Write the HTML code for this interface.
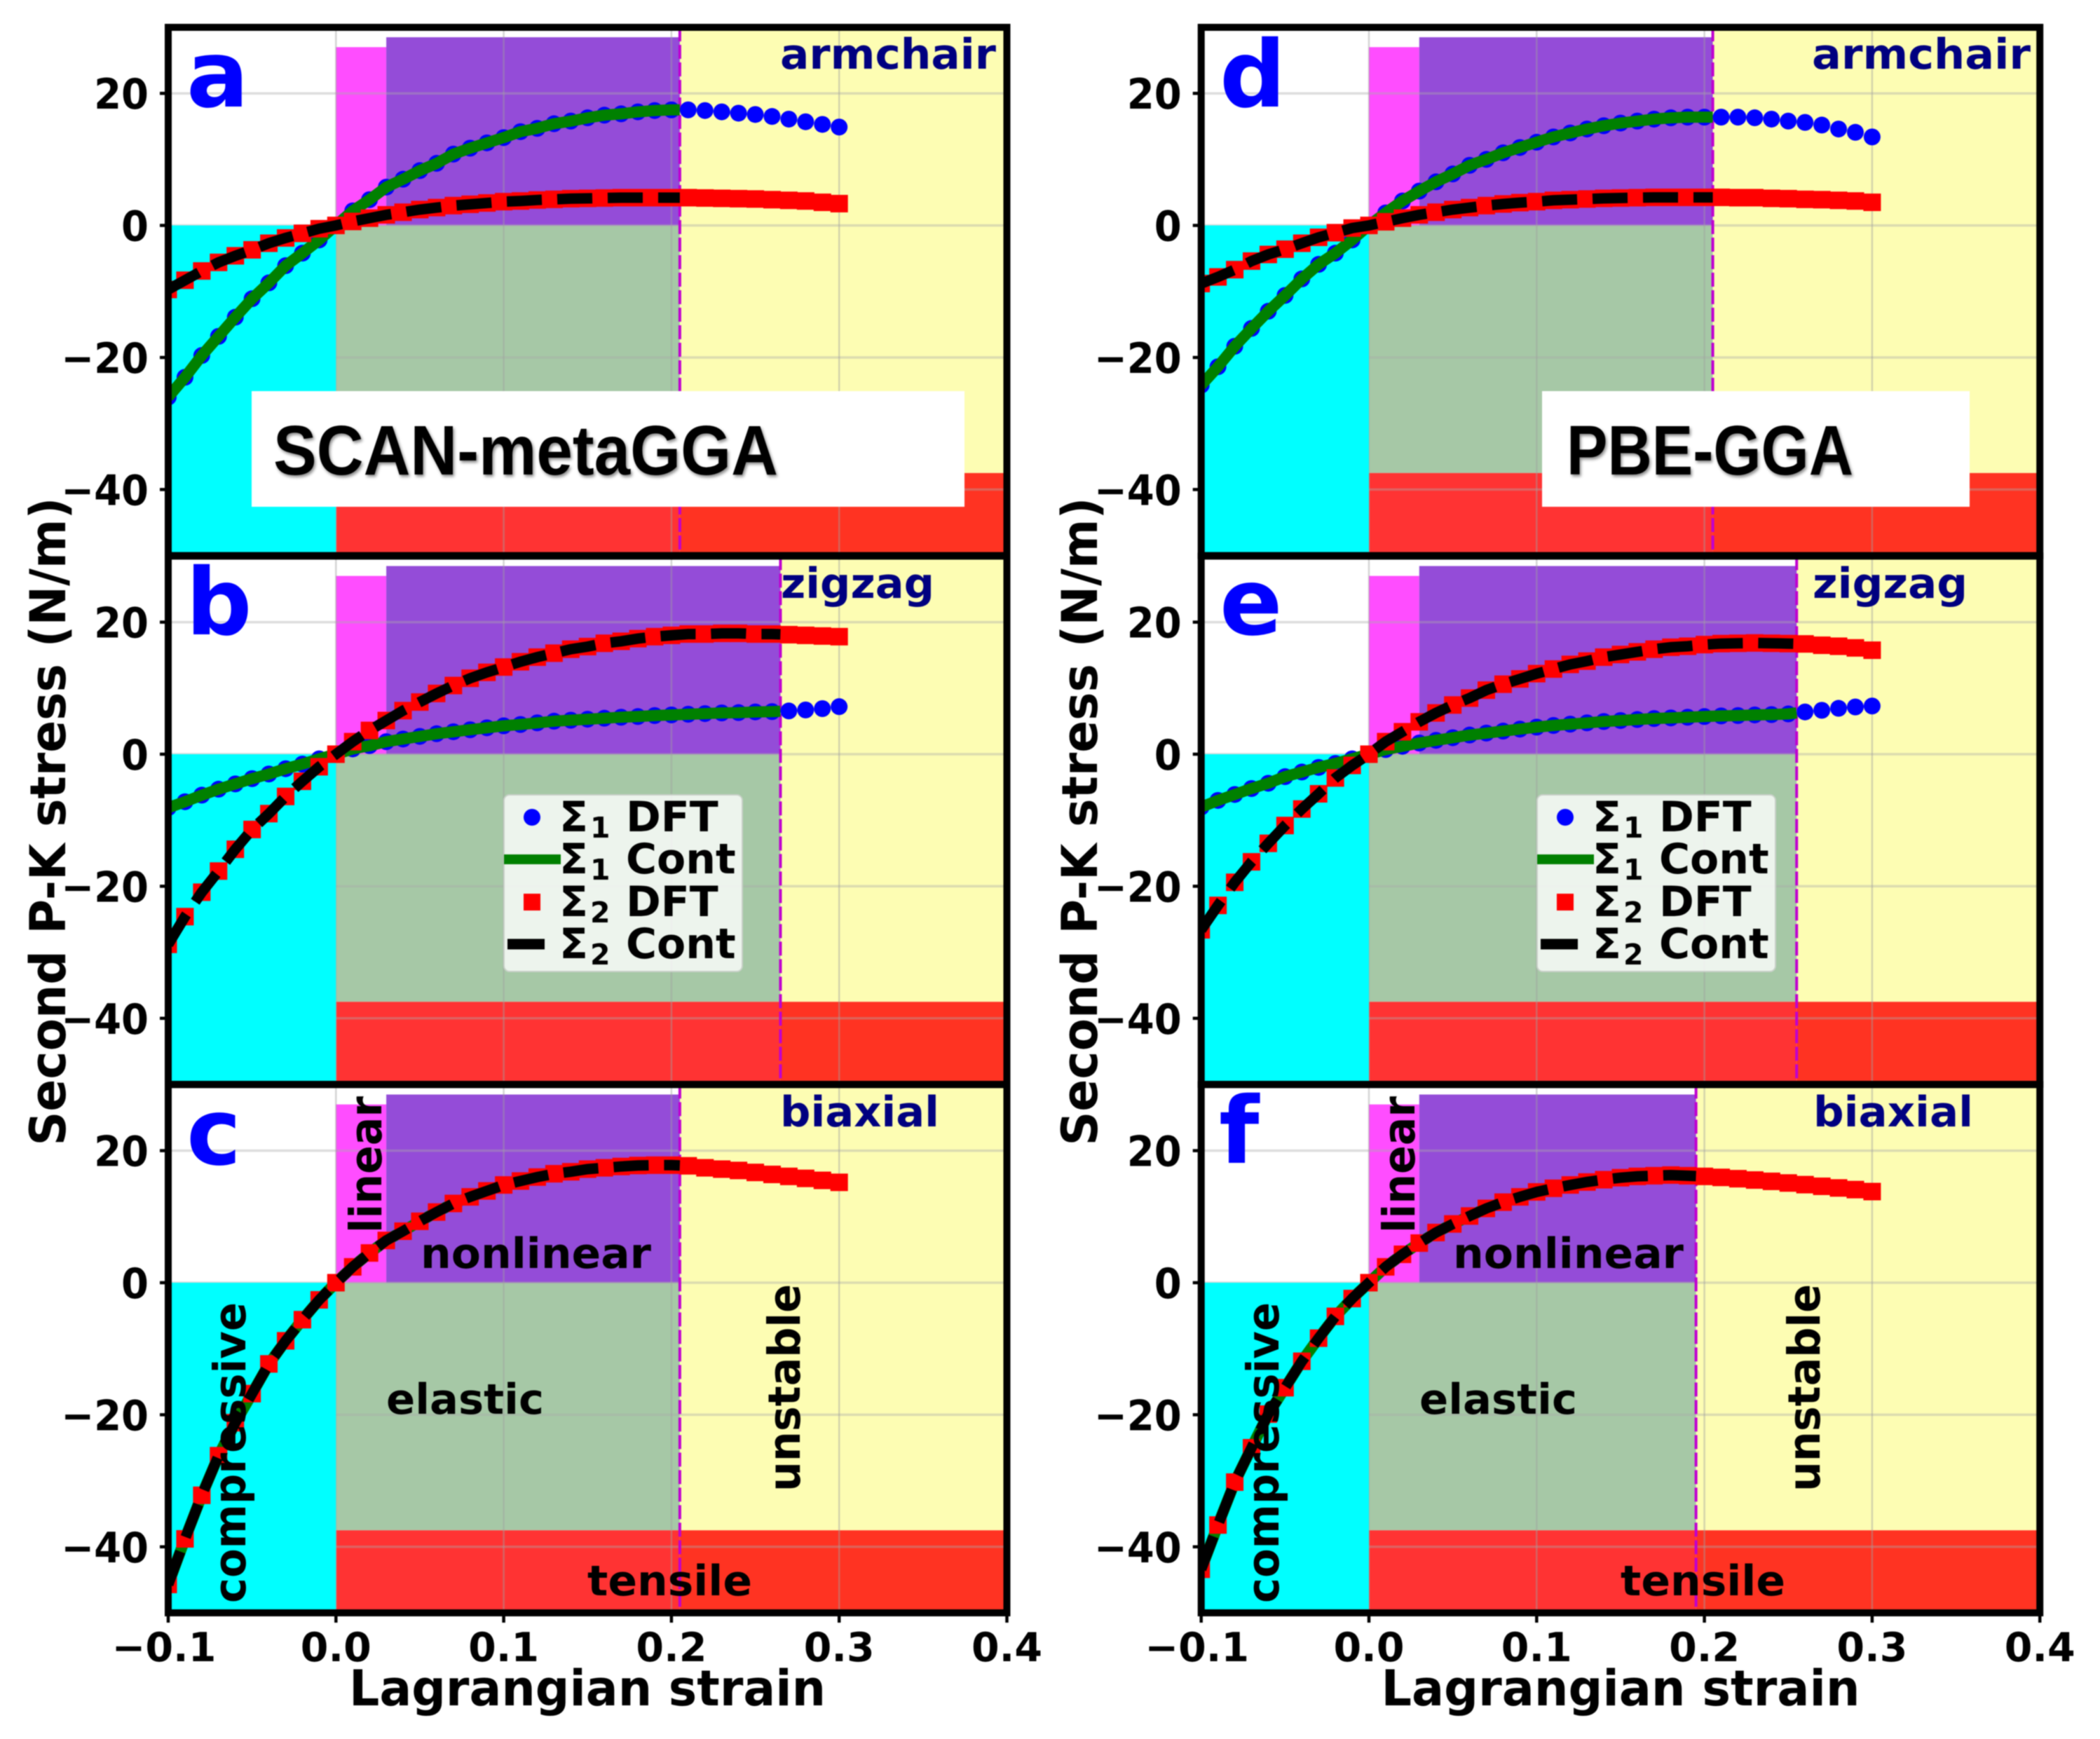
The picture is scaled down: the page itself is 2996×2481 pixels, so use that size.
<!DOCTYPE html>
<html lang="en">
<head>
<meta charset="utf-8">
<title>Second P-K stress versus Lagrangian strain</title>
<style>
html,body{margin:0;padding:0;background:#fff;}
svg{display:block;filter:blur(0.8px);}
text{font-family:"DejaVu Sans","Liberation Sans",sans-serif;font-weight:bold;}
.dir{font-size:60px;fill:#000080;}
.note{font-size:60px;fill:#000;}
.note-v{font-size:63px;fill:#000;}
.letter{font-size:132px;fill:#0000ff;}
.axis-title{font-size:70px;fill:#000;}
.method{font-family:"Liberation Sans",sans-serif;font-size:100px;fill:#000;filter:drop-shadow(2px 3px 2px rgba(0,0,0,.45));}
.leg{font-size:60px;fill:#000;}
.leg-sub{font-size:41px;fill:#000;}
</style>
</head>
<body>
<svg id="figure" xmlns="http://www.w3.org/2000/svg" width="2996" height="2481" viewBox="0 0 2996 2481">
<rect x="0" y="0" width="2996" height="2481" fill="#fff"/>
<g id="plot-layer"></g>

<g>
<text class="dir" x="1113" y="98" textLength="308" lengthAdjust="spacingAndGlyphs">armchair</text>
<text class="dir" x="1114" y="853" textLength="219" lengthAdjust="spacingAndGlyphs">zigzag</text>
<text class="dir" x="1113" y="1607" textLength="227" lengthAdjust="spacingAndGlyphs">biaxial</text>
<text class="letter" x="266" y="152">a</text>
<text class="letter" x="265" y="905">b</text>
<text class="letter" x="266" y="1661">c</text>
<text class="note" x="600" y="1809" textLength="329" lengthAdjust="spacingAndGlyphs">nonlinear</text>
<text class="note" x="551" y="2017" textLength="225" lengthAdjust="spacingAndGlyphs">elastic</text>
<text class="note" x="838" y="2276" textLength="235" lengthAdjust="spacingAndGlyphs">tensile</text>
<text class="note-v" transform="translate(544,1759) rotate(-90)" textLength="195" lengthAdjust="spacingAndGlyphs">linear</text>
<text class="note-v" transform="translate(350,2287) rotate(-90)" textLength="429" lengthAdjust="spacingAndGlyphs">compressive</text>
<text class="note-v" transform="translate(1141,2128) rotate(-90)" textLength="296" lengthAdjust="spacingAndGlyphs">unstable</text>
</g>

<g>
<text class="dir" x="2585" y="98" textLength="312" lengthAdjust="spacingAndGlyphs">armchair</text>
<text class="dir" x="2586" y="853" textLength="221" lengthAdjust="spacingAndGlyphs">zigzag</text>
<text class="dir" x="2587" y="1607" textLength="228" lengthAdjust="spacingAndGlyphs">biaxial</text>
<text class="letter" x="1740" y="152">d</text>
<text class="letter" x="1740" y="905">e</text>
<text class="letter" x="1739" y="1659">f</text>
<text class="note" x="2073" y="1809" textLength="329" lengthAdjust="spacingAndGlyphs">nonlinear</text>
<text class="note" x="2025" y="2017" textLength="225" lengthAdjust="spacingAndGlyphs">elastic</text>
<text class="note" x="2312" y="2276" textLength="235" lengthAdjust="spacingAndGlyphs">tensile</text>
<text class="note-v" transform="translate(2018,1759) rotate(-90)" textLength="195" lengthAdjust="spacingAndGlyphs">linear</text>
<text class="note-v" transform="translate(1824,2287) rotate(-90)" textLength="429" lengthAdjust="spacingAndGlyphs">compressive</text>
<text class="note-v" transform="translate(2596,2128) rotate(-90)" textLength="296" lengthAdjust="spacingAndGlyphs">unstable</text>
</g>

<g>
<rect x="719" y="1134" width="340" height="252" rx="8" ry="8" fill="rgba(255,255,255,.8)" stroke="#c8d0c8" stroke-width="2"/>
<circle cx="759" cy="1166" r="12" fill="#0000ff"/>
<line x1="719" x2="800" y1="1226" y2="1226" stroke="#008000" stroke-width="14"/>
<rect x="747" y="1275" width="24" height="24" fill="#ff0000"/>
<line x1="724" x2="777" y1="1347" y2="1347" stroke="#000" stroke-width="15"/>
<text class="leg" x="798" y="1186">Σ<tspan class="leg-sub" x="842" dy="9">1</tspan><tspan x="893" dy="-9">DFT</tspan></text>
<text class="leg" x="798" y="1246">Σ<tspan class="leg-sub" x="842" dy="9">1</tspan><tspan x="893" dy="-9">Cont</tspan></text>
<text class="leg" x="798" y="1307">Σ<tspan class="leg-sub" x="842" dy="9">2</tspan><tspan x="893" dy="-9">DFT</tspan></text>
<text class="leg" x="798" y="1367">Σ<tspan class="leg-sub" x="842" dy="9">2</tspan><tspan x="893" dy="-9">Cont</tspan></text>
</g>

<g transform="translate(1474,0)">
<rect x="719" y="1134" width="340" height="252" rx="8" ry="8" fill="rgba(255,255,255,.8)" stroke="#c8d0c8" stroke-width="2"/>
<circle cx="759" cy="1166" r="12" fill="#0000ff"/>
<line x1="719" x2="800" y1="1226" y2="1226" stroke="#008000" stroke-width="14"/>
<rect x="747" y="1275" width="24" height="24" fill="#ff0000"/>
<line x1="724" x2="777" y1="1347" y2="1347" stroke="#000" stroke-width="15"/>
<text class="leg" x="798" y="1186">Σ<tspan class="leg-sub" x="842" dy="9">1</tspan><tspan x="893" dy="-9">DFT</tspan></text>
<text class="leg" x="798" y="1246">Σ<tspan class="leg-sub" x="842" dy="9">1</tspan><tspan x="893" dy="-9">Cont</tspan></text>
<text class="leg" x="798" y="1307">Σ<tspan class="leg-sub" x="842" dy="9">2</tspan><tspan x="893" dy="-9">DFT</tspan></text>
<text class="leg" x="798" y="1367">Σ<tspan class="leg-sub" x="842" dy="9">2</tspan><tspan x="893" dy="-9">Cont</tspan></text>
</g>

<g id="frame-layer"></g>

<g>
<rect x="359" y="558" width="1017" height="165" fill="#fff"/>
<text class="method" x="390" y="677" textLength="720" lengthAdjust="spacingAndGlyphs">SCAN-metaGGA</text>
</g>
<g>
<rect x="2200" y="558" width="610" height="165" fill="#fff"/>
<text class="method" x="2235" y="677" textLength="409" lengthAdjust="spacingAndGlyphs">PBE-GGA</text>
</g>

<text class="axis-title" text-anchor="middle" transform="translate(93,1172) rotate(-90)" textLength="925" lengthAdjust="spacingAndGlyphs">Second P-K stress (N/m)</text>
<text class="axis-title" text-anchor="middle" transform="translate(1565,1172) rotate(-90)" textLength="925" lengthAdjust="spacingAndGlyphs">Second P-K stress (N/m)</text>
<text class="axis-title" text-anchor="middle" x="838" y="2433" textLength="680" lengthAdjust="spacingAndGlyphs">Lagrangian strain</text>
<text class="axis-title" text-anchor="middle" x="2312" y="2433" textLength="683" lengthAdjust="spacingAndGlyphs">Lagrangian strain</text>
</svg>

<script>
const strain = [-0.10,-0.09,-0.08,-0.07,-0.06,-0.05,-0.04,-0.03,-0.02,-0.01,0,0.01,0.02,0.03,0.04,0.05,0.06,0.07,0.08,0.09,0.10,0.11,0.12,0.13,0.14,0.15,0.16,0.17,0.18,0.19,0.20,0.21,0.22,0.23,0.24,0.25,0.26,0.27,0.28,0.29,0.30];

const armchairScanS1 = [-26,-23,-19.7,-16.8,-13.9,-11.1,-8.7,-6.1,-4.2,-2.2,0,2.2,3.9,5.8,7,8.3,9.4,10.8,11.7,12.5,13.3,14.2,14.7,15.4,15.8,16.3,16.7,16.9,17.2,17.4,17.5,17.5,17.4,17.2,17,16.8,16.5,16.1,15.7,15.3,14.9];
const armchairScanS2 = [-9.7,-8.3,-6.9,-5.6,-4.6,-3.7,-2.7,-1.9,-1.2,-0.5,0,0.6,1.1,1.6,2,2.4,2.7,3,3.2,3.4,3.6,3.7,3.85,3.95,4.05,4.1,4.15,4.2,4.2,4.2,4.2,4.2,4.15,4.1,4.05,4,3.9,3.8,3.7,3.5,3.3];
const zigzagScanS1 = [-8.1,-7.2,-6.2,-5.3,-4.5,-3.7,-3,-2.2,-1.5,-0.7,0,0.8,1.3,1.9,2.3,2.7,3.1,3.4,3.7,4,4.3,4.5,4.75,5,5.15,5.3,5.45,5.6,5.7,5.85,5.95,6.05,6.15,6.25,6.3,6.4,6.45,6.55,6.7,6.9,7.2];
const zigzagScanS2 = [-28.8,-24.6,-20.9,-17.7,-14.4,-11.4,-9,-6.4,-4.1,-1.9,0,1.9,3.6,5.1,6.6,7.9,9.2,10.4,11.5,12.4,13.2,14,14.7,15.3,15.9,16.3,16.8,17.1,17.5,17.8,18,18.2,18.2,18.3,18.3,18.2,18.2,18.1,18,17.9,17.8];
const biaxialScan = [-45.7,-38.8,-32.2,-26.2,-21.2,-16.8,-12.3,-8.8,-5.6,-2.6,0,2.4,4.5,6.4,7.8,9.3,10.7,12,13,13.9,14.8,15.4,16,16.5,16.8,17.2,17.4,17.6,17.75,17.8,17.8,17.7,17.4,17.2,17,16.7,16.4,16.1,15.8,15.5,15.2];
const armchairPbeS1 = [-24.2,-21.4,-18.3,-15.6,-13,-10.6,-8.1,-5.9,-4.2,-2.2,0,1.9,3.7,5.2,6.6,7.8,9.1,10,11,11.8,12.6,13.4,14,14.6,15.1,15.5,15.8,16.1,16.3,16.4,16.4,16.4,16.4,16.3,16.1,15.8,15.6,15.2,14.6,14.1,13.4];
const armchairPbeS2 = [-8.8,-7.8,-6.7,-5.4,-4.4,-3.6,-2.7,-1.8,-1.1,-0.4,0,0.55,1.1,1.6,2,2.4,2.7,3,3.25,3.45,3.6,3.8,3.9,4,4.1,4.15,4.2,4.25,4.25,4.25,4.25,4.25,4.2,4.2,4.1,4.05,3.95,3.9,3.8,3.7,3.5];
const zigzagPbeS1 = [-8,-7,-6.1,-5.2,-4.4,-3.4,-2.7,-2,-1.4,-0.7,0,0.7,1.2,1.7,2.1,2.5,2.9,3.2,3.5,3.8,4.1,4.35,4.55,4.75,4.95,5.1,5.25,5.4,5.5,5.6,5.7,5.8,5.85,5.95,6,6.1,6.4,6.65,6.95,7.15,7.3];
const zigzagPbeS2 = [-26.6,-22.9,-19.4,-16.3,-13.5,-10.8,-8.3,-6,-3.6,-1.7,0,1.9,3.4,4.9,6.25,7.45,8.5,9.7,10.6,11.4,12.2,12.9,13.6,14.1,14.7,15.1,15.5,15.9,16.2,16.35,16.6,16.75,16.8,16.85,16.8,16.75,16.7,16.5,16.35,16.1,15.75];
const biaxialPbe = [-43.4,-36.7,-30.2,-25,-19.9,-15.9,-11.9,-8.4,-5.1,-2.4,0,2.4,4.3,6,7.6,8.9,10.1,11.25,12.2,13,13.75,14.3,14.8,15.25,15.6,15.9,16.1,16.2,16.3,16.2,16.1,15.95,15.75,15.55,15.35,15.1,14.85,14.6,14.35,14.1,13.8];

const criticalStrain = [0.205,0.265,0.205,0.205,0.255,0.195];
const panelIds = ['a','b','c','d','e','f'];
const sigma1Series = [armchairScanS1,zigzagScanS1,biaxialScan,armchairPbeS1,zigzagPbeS1,biaxialPbe];
const sigma2Series = [armchairScanS2,zigzagScanS2,biaxialScan,armchairPbeS2,zigzagPbeS2,biaxialPbe];

const yTickValues = [20,0,-20,-40];
const yTickLabels = ['20','0','\u221220','\u221240'];
const xTickValues = [-0.1,0,0.1,0.2,0.3,0.4];
const xTickLabels = ['\u22120.1','0.0','0.1','0.2','0.3','0.4'];
const gridStrainValues = [0,0.1,0.2,0.3];

const xDomain = [-0.1,0.4];
const yDomain = [-50,30];
const linearLimit = 0.03;
const purpleTop = 28.5;
const magentaTop = 27;
const tensileTop = -37.5;

const SVGNS = 'http://www.w3.org/2000/svg';
const plotLayer = document.getElementById('plot-layer');
const frameLayer = document.getElementById('frame-layer');

function columnLeft(i){ return i < 3 ? 240 : 1713.7; }
function rowZero(i){ return [321.6,1076,1830][i % 3]; }
function xAxis(i,v){ return columnLeft(i) + (v - xDomain[0]) * 2393; }
function yAxis(i,v){ return rowZero(i) - v * 9.42; }

function make(tag,attrs,parent){
  const node = document.createElementNS(SVGNS,tag);
  for (const k in attrs) node.setAttribute(k,attrs[k]);
  parent.appendChild(node);
  return node;
}

function region(i,parent,x0,x1,y0,y1,fill,name){
  const el = make('rect',{x:xAxis(i,x0),y:yAxis(i,y1),width:xAxis(i,x1)-xAxis(i,x0),height:yAxis(i,y0)-yAxis(i,y1),fill:fill},parent);
  
  
  return el;
}

function linePath(i,values,limit){
  let d = '';
  for (let k = 0; k < strain.length; k++){
    if (strain[k] <= limit + 1e-9){
      d += (d ? 'L' : 'M') + xAxis(i,strain[k]).toFixed(1) + ' ' + yAxis(i,values[k]).toFixed(1);
    } else {
      const t = (limit - strain[k-1]) / (strain[k] - strain[k-1]);
      const v = values[k-1] + t * (values[k] - values[k-1]);
      d += 'L' + xAxis(i,limit).toFixed(1) + ' ' + yAxis(i,v).toFixed(1);
      break;
    }
  }
  return d;
}

function drawPanel(i){
  const id = panelIds[i];
  const eps = criticalStrain[i];
  const s1 = sigma1Series[i];
  const s2 = sigma2Series[i];

  const panel = make('g',{},plotLayer);
  
  

  const clip = make('clipPath',{id:'clip-' + id},panel);
  make('rect',{x:xAxis(i,xDomain[0]),y:yAxis(i,yDomain[1]),width:xAxis(i,xDomain[1])-xAxis(i,xDomain[0]),height:yAxis(i,yDomain[0])-yAxis(i,yDomain[1])},clip);

  const body = make('g',{'clip-path':'url(#clip-' + id + ')'},panel);
  
  

  region(i,body,xDomain[0],xDomain[1],yDomain[0],yDomain[1],'#ffffff','axes-background');
  region(i,body,eps,xDomain[1],tensileTop,yDomain[1],'#fdfdb3','unstable-region');
  region(i,body,0,eps,tensileTop,0,'#a6c8a6','elastic-region');
  region(i,body,0,linearLimit,0,magentaTop,'#ff4dff','linear-region');
  region(i,body,linearLimit,eps,0,purpleTop,'#944cd8','nonlinear-region');
  region(i,body,0,eps,yDomain[0],tensileTop,'#ff3333','tensile-region');
  region(i,body,eps,xDomain[1],yDomain[0],tensileTop,'#ff3322','tensile-unstable-region');

  for (const v of yTickValues){
    const g = make('line',{x1:xAxis(i,xDomain[0]),x2:xAxis(i,xDomain[1]),y1:yAxis(i,v),y2:yAxis(i,v),stroke:'rgba(170,170,170,.4)','stroke-width':3.5},body);
    
    
  }
  for (const v of gridStrainValues){
    const g = make('line',{x1:xAxis(i,v),x2:xAxis(i,v),y1:yAxis(i,yDomain[1]),y2:yAxis(i,yDomain[0]),stroke:'rgba(160,160,160,.45)','stroke-width':2.5},body);
    
    
  }

  region(i,body,xDomain[0],0,yDomain[0],0,'#00ffff','compressive-region');

  const limitLine = make('line',{x1:xAxis(i,eps),x2:xAxis(i,eps),y1:yAxis(i,yDomain[1]),y2:yAxis(i,yDomain[0]),stroke:'#c000d0','stroke-width':4,'stroke-dasharray':'20 5'},body);
  
  

  for (let k = 0; k < strain.length; k++){
    const dot = make('circle',{cx:xAxis(i,strain[k]),cy:yAxis(i,s1[k]),r:12,fill:'#0000ff'},body);
    
    
  }

  const green = make('path',{d:linePath(i,s1,eps),fill:'none',stroke:'#008000','stroke-width':16,'stroke-linejoin':'round'},body);
  
  

  for (let k = 0; k < strain.length; k++){
    const sq = make('rect',{x:xAxis(i,strain[k])-12.5,y:yAxis(i,s2[k])-12.5,width:25,height:25,fill:'#ff0000'},body);
    
    
  }

  const black = make('path',{d:linePath(i,s2,eps),fill:'none',stroke:'#000000','stroke-width':15,'stroke-dasharray':'50 22'},body);
  
  

  for (let k = 0; k < yTickValues.length; k++){
    const tick = make('line',{x1:columnLeft(i)-12,x2:columnLeft(i),y1:yAxis(i,yTickValues[k]),y2:yAxis(i,yTickValues[k]),stroke:'#000','stroke-width':4.5},panel);
    
    
    const label = make('text',{x:0,y:0,'text-anchor':'end','font-size':56,fill:'#000',transform:'translate(' + (columnLeft(i)-28) + ',' + (yAxis(i,yTickValues[k])+22) + ') scale(1,1.07)'},panel);
    label.textContent = yTickLabels[k];
    
    
  }

  if (i % 3 === 2){
    for (let k = 0; k < xTickValues.length; k++){
      const tick = make('line',{x1:xAxis(i,xTickValues[k]),x2:xAxis(i,xTickValues[k]),y1:yAxis(i,yDomain[0]),y2:yAxis(i,yDomain[0])+14,stroke:'#000','stroke-width':4.5},panel);
      
      
      const shift = xTickValues[k] < 0 ? -6 : 0;
      const label = make('text',{x:xAxis(i,xTickValues[k])+shift,y:2370,'text-anchor':'middle','font-size':57,fill:'#000'},panel);
      label.textContent = xTickLabels[k];
      
      
    }
  }

  const frame = make('rect',{x:xAxis(i,xDomain[0]),y:yAxis(i,yDomain[1]),width:xAxis(i,xDomain[1])-xAxis(i,xDomain[0]),height:yAxis(i,yDomain[0])-yAxis(i,yDomain[1]),fill:'none',stroke:'#000','stroke-width':10},frameLayer);
  
  
}

for (let i = 0; i < panelIds.length; i++) drawPanel(i);
</script>
</body>
</html>
